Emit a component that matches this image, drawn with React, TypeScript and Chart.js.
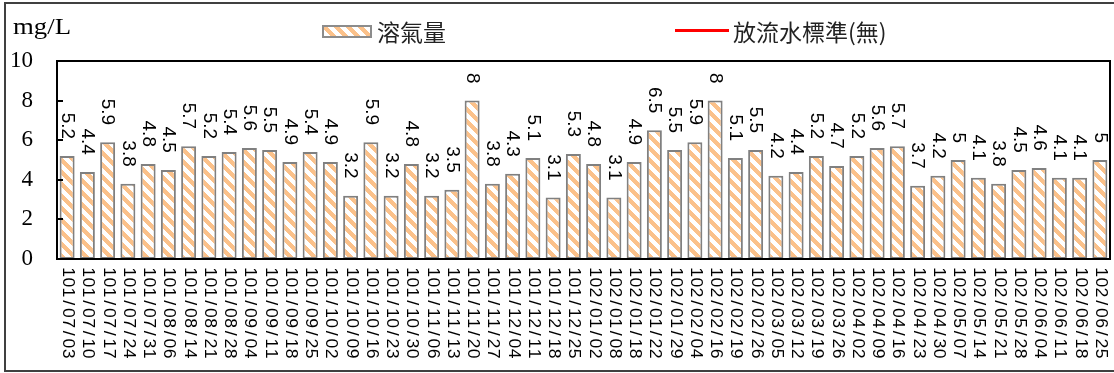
import React, { useEffect, useRef } from 'react';
import { Chart, registerables } from 'chart.js';

Chart.register(...registerables);

const categories = [
  '101/07/03', '101/07/10', '101/07/17', '101/07/24', '101/07/31', '101/08/06', '101/08/14',
  '101/08/21', '101/08/28', '101/09/04', '101/09/11', '101/09/18', '101/09/25', '101/10/02',
  '101/10/09', '101/10/16', '101/10/23', '101/10/30', '101/11/06', '101/11/13', '101/11/20',
  '101/11/27', '101/12/04', '101/12/11', '101/12/18', '101/12/25', '102/01/02', '102/01/08',
  '102/01/18', '102/01/22', '102/01/29', '102/02/04', '102/02/16', '102/02/19', '102/02/26',
  '102/03/05', '102/03/12', '102/03/19', '102/03/26', '102/04/02', '102/04/09', '102/04/16',
  '102/04/23', '102/04/30', '102/05/07', '102/05/14', '102/05/21', '102/05/28', '102/06/04',
  '102/06/11', '102/06/18', '102/06/25',
];

const oxygenValues = [
  5.2, 4.4, 5.9, 3.8, 4.8, 4.5, 5.7, 5.2, 5.4, 5.6, 5.5, 4.9, 5.4, 4.9, 3.2, 5.9, 3.2, 4.8,
  3.2, 3.5, 8, 3.8, 4.3, 5.1, 3.1, 5.3, 4.8, 3.1, 4.9, 6.5, 5.5, 5.9, 8, 5.1, 5.5, 4.2,
  4.4, 5.2, 4.7, 5.2, 5.6, 5.7, 3.7, 4.2, 5, 4.1, 3.8, 4.5, 4.6, 4.1, 4.1, 5,
];

const standardValues: (number | null)[] = [];

const seriesNames = ['溶氣量', '放流水標準(無)'];
const yTickValues = [0, 2, 4, 6, 8, 10];
const unitLabel = 'mg/L';

function makeStripePattern(ctx: CanvasRenderingContext2D): CanvasPattern | string {
  const P = 12;
  const c = document.createElement('canvas');
  c.width = P;
  c.height = P;
  const g = c.getContext('2d');
  if (!g) return '#FBC18A';
  g.fillStyle = '#ffffff';
  g.fillRect(0, 0, P, P);
  g.fillStyle = '#FBC18A';
  for (let y = 0; y < P; y++) {
    for (let x = 0; x < P; x++) {
      const d = (((y - x) % P) + P) % P;
      if (d < 6) g.fillRect(x, y, 1, 1);
    }
  }
  return ctx.createPattern(c, 'repeat') || '#FBC18A';
}

export default function App() {
  const canvasRef = useRef<HTMLCanvasElement | null>(null);

  useEffect(() => {
    let chart: Chart | null = null;
    let cancelled = false;
    const canvas = canvasRef.current;
    if (!canvas) return;

    const build = () => {
      if (cancelled) return;
      const ctx0 = canvas.getContext('2d');
      if (!ctx0) return;
      const pattern = makeStripePattern(ctx0);

      const decorPlugin = {
        id: 'decor',
        beforeDraw(c: any) {
          const ctx: CanvasRenderingContext2D = c.ctx;
          ctx.save();
          ctx.fillStyle = '#ffffff';
          ctx.fillRect(0, 0, c.width, c.height);
          ctx.strokeStyle = '#404040';
          ctx.lineWidth = 2;
          ctx.beginPath();
          ctx.moveTo(1114, 3);
          ctx.lineTo(5, 3);
          ctx.lineTo(5, 371);
          ctx.lineTo(1114, 371);
          ctx.stroke();
          ctx.restore();
        },
        afterDatasetsDraw(c: any) {
          const ctx: CanvasRenderingContext2D = c.ctx;
          const area = c.chartArea;
          const yScale = c.scales.y;
          const xScale = c.scales.x;
          ctx.save();
          // plot frame
          ctx.strokeStyle = '#000000';
          ctx.lineWidth = 2;
          ctx.strokeRect(area.left, area.top, area.right - area.left, area.bottom - area.top);
          // inner y tick marks
          ctx.beginPath();
          yTickValues.forEach((v) => {
            const py = Math.round(yScale.getPixelForValue(v));
            ctx.moveTo(area.left, py);
            ctx.lineTo(area.left + 6, py);
          });
          ctx.stroke();

          // data labels (rotated clockwise)
          const meta = c.getDatasetMeta(0);
          ctx.fillStyle = '#000000';
          ctx.font = '19px "Liberation Sans", Arial, sans-serif';
          ctx.textAlign = 'right';
          ctx.textBaseline = 'middle';
          meta.data.forEach((bar: any, i: number) => {
            ctx.save();
            ctx.translate(bar.x, bar.y - 17);
            ctx.rotate(Math.PI / 2);
            ctx.fillText(String(oxygenValues[i]), 0, 0);
            ctx.restore();
          });

          // x category labels (rotated clockwise, evenly spaced characters)
          ctx.font = '16px "Liberation Sans", Arial, sans-serif';
          ctx.textAlign = 'center';
          ctx.textBaseline = 'middle';
          const step = 10.2;
          categories.forEach((label, i) => {
            const px = xScale.getPixelForValue(i);
            ctx.save();
            ctx.translate(px + 0.5, area.bottom + 8);
            ctx.rotate(Math.PI / 2);
            for (let k = 0; k < label.length; k++) {
              ctx.save();
              ctx.translate(k * step + step / 2, 0);
              ctx.scale(1.1, 1);
              ctx.fillText(label[k], 0, 0);
              ctx.restore();
            }
            ctx.restore();
          });

          // unit label
          ctx.font = '24px "Liberation Serif", "Times New Roman", serif';
          ctx.textAlign = 'left';
          ctx.textBaseline = 'alphabetic';
          const uw = ctx.measureText(unitLabel).width;
          ctx.save();
          ctx.translate(13, 34);
          ctx.scale(58 / uw, 1);
          ctx.fillText(unitLabel, 0, 0);
          ctx.restore();

          // legend
          const ds = c.data.datasets;
          ctx.fillStyle = pattern as any;
          ctx.fillRect(323, 26, 48, 11);
          ctx.strokeStyle = '#8C8C8C';
          ctx.lineWidth = 2;
          ctx.strokeRect(323, 26, 48, 11);
          ctx.fillStyle = '#222222';
          ctx.font = '23px "Noto Sans CJK TC", "Noto Sans CJK SC", sans-serif';
          ctx.textBaseline = 'middle';
          ctx.fillText(ds[0].label, 377, 32);
          ctx.strokeStyle = ds[1].borderColor;
          ctx.lineWidth = 3;
          ctx.beginPath();
          ctx.moveTo(675, 30.5);
          ctx.lineTo(729, 30.5);
          ctx.stroke();
          ctx.fillText(ds[1].label, 733, 32);
          ctx.restore();
        },
      };

      chart = new Chart(canvas, {
        type: 'bar',
        data: {
          labels: categories,
          datasets: [
            {
              type: 'bar',
              label: seriesNames[0],
              data: oxygenValues,
              backgroundColor: pattern as any,
              borderColor: '#808080',
              borderWidth: 2,
              borderSkipped: false,
              barPercentage: 0.74,
              categoryPercentage: 1,
            } as any,
            {
              type: 'line',
              label: seriesNames[1],
              data: standardValues,
              borderColor: '#FF0000',
              borderWidth: 3,
              pointRadius: 0,
            } as any,
          ],
        },
        options: {
          responsive: false,
          animation: false,
          devicePixelRatio: 1,
          layout: { padding: { top: 61, right: 4, left: 0, bottom: 0 } },
          plugins: {
            legend: { display: false },
            tooltip: { enabled: false },
            title: { display: false },
          },
          scales: {
            x: {
              grid: { display: false, drawTicks: false },
              border: { display: false },
              ticks: { display: false },
              afterFit: (s: any) => {
                s.height = 114;
              },
            },
            y: {
              min: 0,
              max: 10,
              afterBuildTicks: (s: any) => {
                s.ticks = yTickValues.map((v) => ({ value: v }));
              },
              grid: { display: false, drawTicks: false },
              border: { display: false },
              ticks: {
                padding: 24,
                color: '#000000',
                font: { family: '"Liberation Serif", "Times New Roman", serif', size: 23 },
              },
              afterFit: (s: any) => {
                s.width = 57;
              },
            },
          },
        } as any,
        plugins: [decorPlugin],
      });
    };

    const fontsReady = (document as any).fonts
      ? Promise.all([
          (document as any).fonts.load('23px "Noto Sans CJK TC"', '溶氣量放流水標準無'),
          (document as any).fonts.load('19px "Liberation Sans"'),
          (document as any).fonts.load('23px "Liberation Serif"'),
        ]).catch(() => null)
      : Promise.resolve(null);
    fontsReady.then(build);

    return () => {
      cancelled = true;
      if (chart) chart.destroy();
    };
  }, []);

  return (
    <div style={{ position: 'absolute', left: 0, top: 0, width: 1114, height: 373 }}>
      <canvas ref={canvasRef} width={1114} height={373} style={{ display: 'block' }} />
    </div>
  );
}
